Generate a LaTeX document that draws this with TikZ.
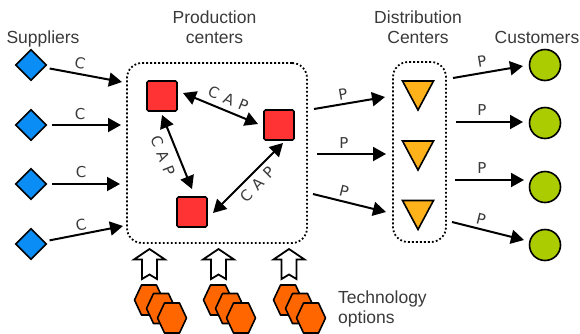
\documentclass[tikz,border=0pt]{standalone}
\usepackage{fontspec}
\setmainfont{Liberation Sans}
\newfontfamily\lblfont{DejaVu Sans}
\usetikzlibrary{arrows.meta,shapes.geometric}
\definecolor{txt}{HTML}{3A3A3A}
\definecolor{supblue}{HTML}{0A8EF5}
\definecolor{plantred}{HTML}{FF3333}
\definecolor{dcorange}{HTML}{FFB21A}
\definecolor{custgreen}{HTML}{AACC00}
\definecolor{hexorange}{HTML}{FF6600}
\newcommand{\spaced}[3]{#1\hspace{6pt}#2\hspace{6pt}#3}
\begin{document}
\begin{tikzpicture}[x=1pt,y=-1pt,
  head/.style={text=txt, font=\fontsize{17.5}{20}\selectfont, inner sep=0pt},
  lbl/.style={text=txt, font=\lblfont\fontsize{15}{17}\selectfont, inner sep=0pt},
  arr/.style={line width=2pt, -{Triangle[length=13pt,width=14pt]}},
  dblarr/.style={line width=2pt, {Triangle[length=13pt,width=14pt]}-{Triangle[length=13pt,width=14pt]}},
  supp/.style={diamond, draw, line width=1.6pt, fill=supblue, minimum width=31pt, minimum height=31pt, inner sep=0pt},
  plant/.style={rectangle, rounded corners=1.5pt, draw, line width=1.6pt, fill=plantred, minimum size=30pt, inner sep=0pt},
  cust/.style={circle, draw, line width=1.6pt, fill=custgreen, minimum size=31pt, inner sep=0pt},
  tri/.style={draw, line width=1.6pt, fill=dcorange, line join=miter},
  hex/.style={draw, line width=1.6pt, fill=hexorange, line join=round},
  tech/.style={draw, line width=1.8pt, fill=white, line join=miter},
  group/.style={draw, line width=1.8pt, dash pattern=on 1.8pt off 2.2pt, rounded corners=15pt, inner sep=0pt}
]
\useasboundingbox (0,0) rectangle (580,333);

% ---- headings (multi-line nodes: base anchor sits on the last line)
\node[head, anchor=base] (hsup) at (43,43) {Suppliers};
\node[head, anchor=base, align=center] (hpc) at (214.5,43) {Production\\centers};
\node[head, anchor=base, align=center] (hdc) at (418,43) {Distribution\\Centers};
\node[head, anchor=base] (hcu) at (537,43) {Customers};
\node[head, anchor=base west, align=left] (htech) at (338,323) {Technology\\options};

% ---- grouping boxes
\node[group, minimum width=180pt, minimum height=180pt] (pc) at (217,153) {};
\node[group, minimum width=53pt, minimum height=180pt] (dc) at (419.5,152) {};

% ---- suppliers
\node[supp] (s1) at (31,65) {};
\node[supp] (s2) at (31,125) {};
\node[supp] (s3) at (31,184) {};
\node[supp] (s4) at (31,244) {};
\coordinate (e1) at (122,82);
\coordinate (e2) at (121,125);
\coordinate (e3) at (120,184);
\coordinate (e4) at (123,226);
\foreach \i in {1,...,4}{\draw[arr, shorten <=5pt] (s\i) -- (e\i);}
\node[lbl, rotate=-11] (lc1) at (80,63.5) {C};
\node[lbl] (lc2) at (80,114) {C};
\node[lbl] (lc3) at (81,172.5) {C};
\node[lbl, rotate=13] (lc4) at (81,225) {C};

% ---- production centers
\node[plant] (q1) at (162,96) {};
\node[plant] (q2) at (279,125) {};
\node[plant] (q3) at (192,212) {};
\coordinate (a1) at (183,93);  \coordinate (a2) at (258,124);
\coordinate (b1) at (162,115); \coordinate (b2) at (192,189);
\coordinate (c1) at (283,143); \coordinate (c2) at (213,213);
\draw[dblarr] (a1) -- (a2);
\draw[dblarr] (b1) -- (b2);
\draw[dblarr] (c1) -- (c2);
\node[lbl, rotate=-22.5] (cap1) at (228.3,98.8) {\spaced CAP};
\node[lbl, rotate=-68] (cap2) at (163.5,155.7) {\spaced CAP};
\node[lbl, rotate=45] (cap3) at (257.2,184.5) {\spaced CAP};

% ---- distribution centers
\coordinate (d1) at (418,95.5);
\coordinate (d2) at (418,155.5);
\coordinate (d3) at (418,215);
\foreach \i in {1,2,3}{\draw[tri] (d\i) ++(-15.5,-14.5) -- ++(31,0) -- ++(-15.5,29) -- cycle;}
\coordinate (p1s) at (314,109); \coordinate (p1e) at (385,97);
\coordinate (p2s) at (317,154); \coordinate (p2e) at (386,154);
\coordinate (p3s) at (313,194); \coordinate (p3e) at (386,212);
\foreach \i in {1,2,3}{\draw[arr] (p\i s) -- (p\i e);}
\node[lbl, rotate=9.6] (lp1) at (343,94) {P};
\node[lbl] (lp2) at (344,143) {P};
\node[lbl, rotate=-14] (lp3) at (344,191) {P};

% ---- customers
\node[cust] (k1) at (545,65) {};
\node[cust] (k2) at (545,123) {};
\node[cust] (k3) at (545,187) {};
\node[cust] (k4) at (545,245) {};
\coordinate (f1) at (453,78);  \coordinate (g1) at (523,66);
\coordinate (f2) at (456,122); \coordinate (g2) at (523,122);
\coordinate (f3) at (455,180); \coordinate (g3) at (524,180);
\coordinate (f4) at (452,222); \coordinate (g4) at (524,240);
\foreach \i in {1,...,4}{\draw[arr] (f\i) -- (g\i);}
\node[lbl, rotate=9.7] (lk1) at (482,61) {P};
\node[lbl] (lk2) at (482,110.5) {P};
\node[lbl] (lk3) at (482,168.5) {P};
\node[lbl, rotate=-14] (lk4) at (481,219) {P};

% ---- technology options: block arrows and stacked hexagons
\foreach \x in {149.5,218.5,289}{
  \draw[tech] (\x,249) -- (\x+15.5,259.5) -- (\x+7.5,259.5) -- (\x+7.5,279)
    -- (\x,274.5) -- (\x-7.5,279) -- (\x-7.5,259.5) -- (\x-15.5,259.5) -- cycle;
}
\foreach \x in {149,218,288}{
  \foreach \dx/\dy in {0/300,12/308.5,23/318}{
    \draw[hex] (\x+\dx,\dy) ++(-14.5,0) -- ++(7,-15) -- ++(15,0) -- ++(7,15)
      -- ++(-7,15) -- ++(-15,0) -- cycle;
  }
}
\end{tikzpicture}
\end{document}
